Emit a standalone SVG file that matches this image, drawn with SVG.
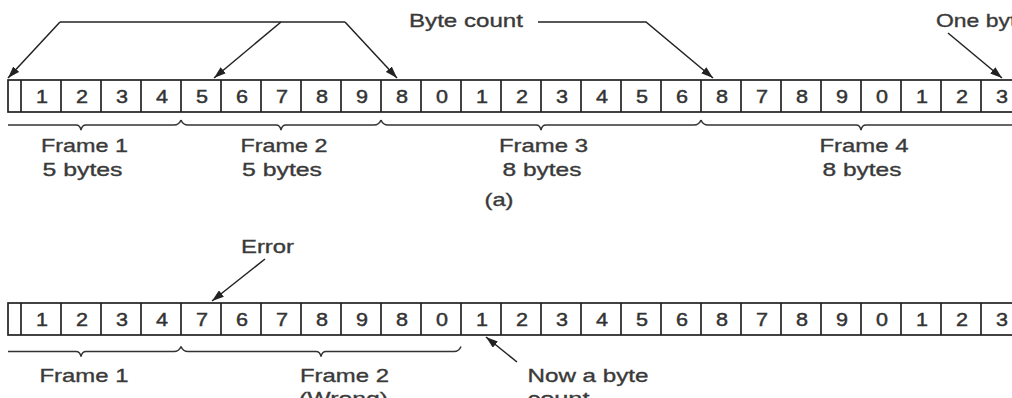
<svg xmlns="http://www.w3.org/2000/svg" width="1012" height="398" viewBox="0 0 1012 398">
  <style>
    .cellrow { fill: #ffffff; stroke: #222222; stroke-width: 1.7; }
    .sep { stroke: #222222; stroke-width: 1.7; }
    .digit { font-family: "Liberation Sans", Arial, sans-serif; font-size: 18.5px; fill: #333333; stroke: #333333; stroke-width: 0.45; text-anchor: middle; }
    .label { font-family: "Liberation Sans", Arial, sans-serif; font-size: 19px; fill: #3a3a3a; stroke: #3a3a3a; stroke-width: 0.35; }
    .brace { fill: none; stroke: #333333; stroke-width: 1.5; }
    .conn { fill: none; stroke: #222222; stroke-width: 1.5; }
    .conn-arrow { fill: none; stroke: #222222; stroke-width: 1.5; marker-end: url(#head); }
  </style>
  <defs>
    <marker id="head" viewBox="0 0 12 8" refX="12" refY="4" markerWidth="12" markerHeight="8" markerUnits="userSpaceOnUse" orient="auto">
      <path d="M0,0 L12,4 L0,8 Z" fill="#222222"/>
    </marker>
  </defs>
  <rect width="1012" height="398" fill="#ffffff"/>

  <!-- (a) byte stream with correct counts -->
  <g id="row-a">
    <rect class="cellrow" x="8" y="80" width="1020" height="32"/>
    <g class="sep">
      <line x1="21" y1="80" x2="21" y2="112"/><line x1="61" y1="80" x2="61" y2="112"/>
      <line x1="101" y1="80" x2="101" y2="112"/><line x1="141" y1="80" x2="141" y2="112"/>
      <line x1="181" y1="80" x2="181" y2="112"/><line x1="221" y1="80" x2="221" y2="112"/>
      <line x1="261" y1="80" x2="261" y2="112"/><line x1="301" y1="80" x2="301" y2="112"/>
      <line x1="341" y1="80" x2="341" y2="112"/><line x1="381" y1="80" x2="381" y2="112"/>
      <line x1="421" y1="80" x2="421" y2="112"/><line x1="461" y1="80" x2="461" y2="112"/>
      <line x1="501" y1="80" x2="501" y2="112"/><line x1="541" y1="80" x2="541" y2="112"/>
      <line x1="581" y1="80" x2="581" y2="112"/><line x1="621" y1="80" x2="621" y2="112"/>
      <line x1="661" y1="80" x2="661" y2="112"/><line x1="701" y1="80" x2="701" y2="112"/>
      <line x1="741" y1="80" x2="741" y2="112"/><line x1="781" y1="80" x2="781" y2="112"/>
      <line x1="821" y1="80" x2="821" y2="112"/><line x1="861" y1="80" x2="861" y2="112"/>
      <line x1="901" y1="80" x2="901" y2="112"/><line x1="941" y1="80" x2="941" y2="112"/>
      <line x1="981" y1="80" x2="981" y2="112"/>
    </g>
    <g class="digit">
      <text x="42" y="103" textLength="12" lengthAdjust="spacingAndGlyphs">1</text><text x="82" y="103" textLength="12" lengthAdjust="spacingAndGlyphs">2</text><text x="122" y="103" textLength="12" lengthAdjust="spacingAndGlyphs">3</text>
      <text x="162" y="103" textLength="12" lengthAdjust="spacingAndGlyphs">4</text><text x="202" y="103" textLength="12" lengthAdjust="spacingAndGlyphs">5</text><text x="242" y="103" textLength="12" lengthAdjust="spacingAndGlyphs">6</text>
      <text x="282" y="103" textLength="12" lengthAdjust="spacingAndGlyphs">7</text><text x="322" y="103" textLength="12" lengthAdjust="spacingAndGlyphs">8</text><text x="362" y="103" textLength="12" lengthAdjust="spacingAndGlyphs">9</text>
      <text x="402" y="103" textLength="12" lengthAdjust="spacingAndGlyphs">8</text><text x="442" y="103" textLength="12" lengthAdjust="spacingAndGlyphs">0</text><text x="482" y="103" textLength="12" lengthAdjust="spacingAndGlyphs">1</text>
      <text x="522" y="103" textLength="12" lengthAdjust="spacingAndGlyphs">2</text><text x="562" y="103" textLength="12" lengthAdjust="spacingAndGlyphs">3</text><text x="602" y="103" textLength="12" lengthAdjust="spacingAndGlyphs">4</text>
      <text x="642" y="103" textLength="12" lengthAdjust="spacingAndGlyphs">5</text><text x="682" y="103" textLength="12" lengthAdjust="spacingAndGlyphs">6</text><text x="722" y="103" textLength="12" lengthAdjust="spacingAndGlyphs">8</text>
      <text x="762" y="103" textLength="12" lengthAdjust="spacingAndGlyphs">7</text><text x="802" y="103" textLength="12" lengthAdjust="spacingAndGlyphs">8</text><text x="842" y="103" textLength="12" lengthAdjust="spacingAndGlyphs">9</text>
      <text x="882" y="103" textLength="12" lengthAdjust="spacingAndGlyphs">0</text><text x="922" y="103" textLength="12" lengthAdjust="spacingAndGlyphs">1</text><text x="962" y="103" textLength="12" lengthAdjust="spacingAndGlyphs">2</text>
      <text x="1002" y="103" textLength="12" lengthAdjust="spacingAndGlyphs">3</text>
    </g>
  </g>

  <g id="frame1-a">
    <path class="brace" d="M8,125 H76 Q80,125 81,130 Q82,125 86,125 H174 Q179,125 181,120"/>
    <text class="label" x="41" y="152" textLength="87" lengthAdjust="spacingAndGlyphs">Frame 1</text>
    <text class="label" x="42.5" y="176" textLength="80" lengthAdjust="spacingAndGlyphs">5 bytes</text>
  </g>
  <g id="frame2-a">
    <path class="brace" d="M181,120 Q183,125 188,125 H276 Q280,125 281,130 Q282,125 286,125 H374 Q379,125 381,120"/>
    <text class="label" x="240.5" y="152" textLength="87" lengthAdjust="spacingAndGlyphs">Frame 2</text>
    <text class="label" x="242" y="176" textLength="80" lengthAdjust="spacingAndGlyphs">5 bytes</text>
  </g>
  <g id="frame3-a">
    <path class="brace" d="M381,120 Q383,125 388,125 H536 Q540,125 541,130 Q542,125 546,125 H694 Q699,125 701,120"/>
    <text class="label" x="499" y="152" textLength="89" lengthAdjust="spacingAndGlyphs">Frame 3</text>
    <text class="label" x="502.5" y="176" textLength="79" lengthAdjust="spacingAndGlyphs">8 bytes</text>
  </g>
  <g id="frame4-a">
    <path class="brace" d="M701,120 Q703,125 708,125 H856 Q860,125 861,130 Q862,125 866,125 H1020"/>
    <text class="label" x="819.5" y="152" textLength="89" lengthAdjust="spacingAndGlyphs">Frame 4</text>
    <text class="label" x="822.5" y="176" textLength="79" lengthAdjust="spacingAndGlyphs">8 bytes</text>
  </g>

  <g id="byte-count-label">
    <text class="label" x="409" y="27" textLength="114" lengthAdjust="spacingAndGlyphs">Byte count</text>
  </g>
  <g id="one-byte-label">
    <text class="label" x="936" y="27" textLength="93" lengthAdjust="spacingAndGlyphs">One byte</text>
  </g>
  <g id="caption-a">
    <text class="label" x="484.5" y="206" textLength="29" lengthAdjust="spacingAndGlyphs">(a)</text>
  </g>

  <!-- (b) the same stream with one corrupted count -->
  <g id="row-b">
    <rect class="cellrow" x="8" y="303" width="1020" height="32"/>
    <g class="sep">
      <line x1="21" y1="303" x2="21" y2="335"/><line x1="61" y1="303" x2="61" y2="335"/>
      <line x1="101" y1="303" x2="101" y2="335"/><line x1="141" y1="303" x2="141" y2="335"/>
      <line x1="181" y1="303" x2="181" y2="335"/><line x1="221" y1="303" x2="221" y2="335"/>
      <line x1="261" y1="303" x2="261" y2="335"/><line x1="301" y1="303" x2="301" y2="335"/>
      <line x1="341" y1="303" x2="341" y2="335"/><line x1="381" y1="303" x2="381" y2="335"/>
      <line x1="421" y1="303" x2="421" y2="335"/><line x1="461" y1="303" x2="461" y2="335"/>
      <line x1="501" y1="303" x2="501" y2="335"/><line x1="541" y1="303" x2="541" y2="335"/>
      <line x1="581" y1="303" x2="581" y2="335"/><line x1="621" y1="303" x2="621" y2="335"/>
      <line x1="661" y1="303" x2="661" y2="335"/><line x1="701" y1="303" x2="701" y2="335"/>
      <line x1="741" y1="303" x2="741" y2="335"/><line x1="781" y1="303" x2="781" y2="335"/>
      <line x1="821" y1="303" x2="821" y2="335"/><line x1="861" y1="303" x2="861" y2="335"/>
      <line x1="901" y1="303" x2="901" y2="335"/><line x1="941" y1="303" x2="941" y2="335"/>
      <line x1="981" y1="303" x2="981" y2="335"/>
    </g>
    <g class="digit">
      <text x="42" y="326" textLength="12" lengthAdjust="spacingAndGlyphs">1</text><text x="82" y="326" textLength="12" lengthAdjust="spacingAndGlyphs">2</text><text x="122" y="326" textLength="12" lengthAdjust="spacingAndGlyphs">3</text>
      <text x="162" y="326" textLength="12" lengthAdjust="spacingAndGlyphs">4</text><text x="202" y="326" textLength="12" lengthAdjust="spacingAndGlyphs">7</text><text x="242" y="326" textLength="12" lengthAdjust="spacingAndGlyphs">6</text>
      <text x="282" y="326" textLength="12" lengthAdjust="spacingAndGlyphs">7</text><text x="322" y="326" textLength="12" lengthAdjust="spacingAndGlyphs">8</text><text x="362" y="326" textLength="12" lengthAdjust="spacingAndGlyphs">9</text>
      <text x="402" y="326" textLength="12" lengthAdjust="spacingAndGlyphs">8</text><text x="442" y="326" textLength="12" lengthAdjust="spacingAndGlyphs">0</text><text x="482" y="326" textLength="12" lengthAdjust="spacingAndGlyphs">1</text>
      <text x="522" y="326" textLength="12" lengthAdjust="spacingAndGlyphs">2</text><text x="562" y="326" textLength="12" lengthAdjust="spacingAndGlyphs">3</text><text x="602" y="326" textLength="12" lengthAdjust="spacingAndGlyphs">4</text>
      <text x="642" y="326" textLength="12" lengthAdjust="spacingAndGlyphs">5</text><text x="682" y="326" textLength="12" lengthAdjust="spacingAndGlyphs">6</text><text x="722" y="326" textLength="12" lengthAdjust="spacingAndGlyphs">8</text>
      <text x="762" y="326" textLength="12" lengthAdjust="spacingAndGlyphs">7</text><text x="802" y="326" textLength="12" lengthAdjust="spacingAndGlyphs">8</text><text x="842" y="326" textLength="12" lengthAdjust="spacingAndGlyphs">9</text>
      <text x="882" y="326" textLength="12" lengthAdjust="spacingAndGlyphs">0</text><text x="922" y="326" textLength="12" lengthAdjust="spacingAndGlyphs">1</text><text x="962" y="326" textLength="12" lengthAdjust="spacingAndGlyphs">2</text>
      <text x="1002" y="326" textLength="12" lengthAdjust="spacingAndGlyphs">3</text>
    </g>
  </g>

  <g id="frame1-b">
    <path class="brace" d="M8,351.5 H76 Q80,351.5 81,356.5 Q82,351.5 86,351.5 H174 Q179,351.5 181,346.5"/>
    <text class="label" x="39.5" y="381.5" textLength="89" lengthAdjust="spacingAndGlyphs">Frame 1</text>
  </g>
  <g id="frame2-b">
    <path class="brace" d="M181,346.5 Q183,351.5 188,351.5 H316 Q320,351.5 321,356.5 Q322,351.5 326,351.5 H454 Q459,351.5 461,346.5"/>
    <text class="label" x="300" y="381.5" textLength="89" lengthAdjust="spacingAndGlyphs">Frame 2</text>
    <text class="label" x="299" y="405" textLength="89" lengthAdjust="spacingAndGlyphs">(Wrong)</text>
  </g>
  <g id="error-label">
    <text class="label" x="241" y="253" textLength="53" lengthAdjust="spacingAndGlyphs">Error</text>
  </g>
  <g id="now-count-label">
    <text class="label" x="527.5" y="381.5" textLength="121" lengthAdjust="spacingAndGlyphs">Now a byte</text>
    <text class="label" x="527.5" y="405" textLength="62" lengthAdjust="spacingAndGlyphs">count</text>
  </g>

  <g id="connectors">
    <!-- byte-count pointers, row (a) -->
    <path class="conn" d="M60,22 H345"/>
    <path class="conn-arrow" d="M60,22 L8,78"/>
    <path class="conn-arrow" d="M281,22 L214,78"/>
    <path class="conn-arrow" d="M345,22 L397,78"/>
    <path class="conn-arrow" d="M538,22 H646 L713,78"/>
    <path class="conn-arrow" d="M948,33 L1002,78"/>
    <!-- row (b) -->
    <path class="conn-arrow" d="M265,259 L212,301"/>
    <path class="conn-arrow" d="M517,362 L486,337"/>
  </g>
</svg>
